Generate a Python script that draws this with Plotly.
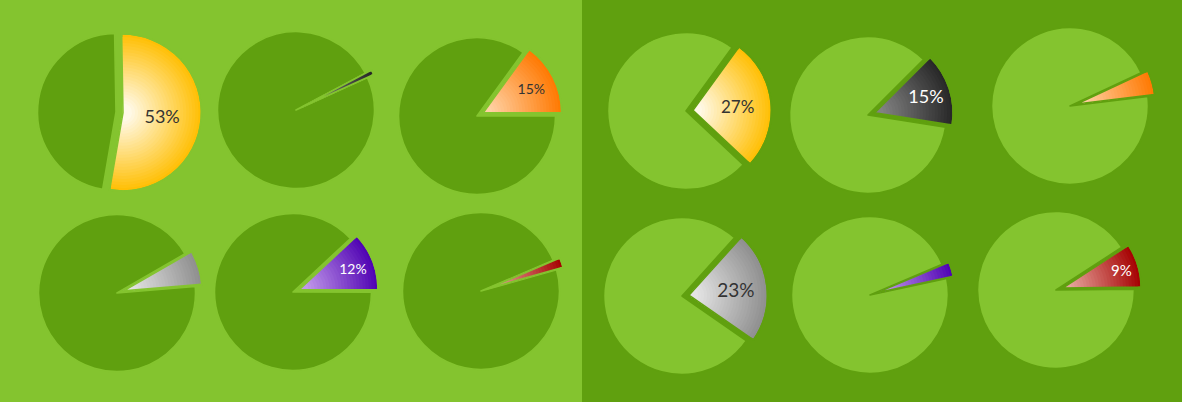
import plotly.graph_objects as go

# ---------------- data ----------------
categories = ["Yellow", "Charcoal", "Orange", "Silver", "Violet", "Crimson"]
left_values = [53, 1, 15, 7, 12, 2]
right_values = [27, 15, 5, 23, 3, 9]
left_labels = ["53%", "", "15%", "", "12%", ""]
right_labels = ["27%", "15%", "", "23%", "", "9%"]

# ---------------- styles / layout ----------------
W, H = 1182, 402
SPLIT = 582
BG_LIGHT = "#84C42F"
BG_DARK = "#60A00F"

# inner (at pie centre) and outer (at rim) colour of each category's gradient
inner_colors = ["#FFFFFF", "#8C8C8C", "#FFDAB5", "#EDEDED", "#CDA8F0", "#EDB5AC"]
outer_colors = ["#FFBE00", "#262626", "#FF7800", "#8E8E8E", "#4E00B2", "#A50000"]
label_colors_left = ["#333333", "#FFFFFF", "#333333", "#333333", "#FFFFFF", "#FFFFFF"]
label_colors_right = ["#333333", "#FFFFFF", "#333333", "#333333", "#FFFFFF", "#FFFFFF"]
label_sizes_left = [18, 14, 14, 14, 14, 14]
label_sizes_right = [17, 18, 14, 19, 14, 15]

# pie centres in pixels and start angle (clockwise from 12 o'clock)
left_centers = [(116, 112), (296, 110), (477, 116), (117, 293), (293, 292), (481, 291)]
right_centers = [(686, 111), (868, 115), (1070, 106), (682, 296), (870, 295), (1056, 290)]
left_start = [-1, 62, 36, 60, 47, 67]
right_start = [36, 45, 65, 42, 67, 57]

R = 78.5      # pie radius (px)
OFF = 7.0     # pull-out distance (px)
NLAYERS = 26  # gradient steps
EDGE_W = 1.6


def hex2rgb(h):
    h = h.lstrip("#")
    return tuple(int(h[i:i + 2], 16) for i in (0, 2, 4))


def mix(c1, c2, t):
    a, b = hex2rgb(c1), hex2rgb(c2)
    return "rgb(%d,%d,%d)" % tuple(round(a[i] + (b[i] - a[i]) * t) for i in range(3))


def domain_for(cx, cy, r, off):
    d = 2 * r + 2 * off
    return dict(x=[(cx - d / 2) / W, (cx + d / 2) / W],
                y=[1 - (cy + d / 2) / H, 1 - (cy - d / 2) / H])


fig = go.Figure()

panels = [
    (left_values, left_labels, left_centers, left_start, BG_LIGHT, BG_DARK,
     label_colors_left, label_sizes_left),
    (right_values, right_labels, right_centers, right_start, BG_DARK, BG_LIGHT,
     label_colors_right, label_sizes_right),
]

for values, labels, centers, starts, bg, rest, lcols, lsizes in panels:
    for i, v in enumerate(values):
        cx, cy = centers[i]
        vals = [v, 100 - v]
        common = dict(values=vals, labels=[categories[i], "Other"], sort=False,
                      direction="clockwise", rotation=starts[i],
                      showlegend=False, hoverinfo="skip", textinfo="none")
        # base pie: outer gradient colour + remaining share
        fig.add_trace(go.Pie(
            domain=domain_for(cx, cy, R, OFF), pull=[OFF / R, 0],
            marker=dict(colors=[mix(inner_colors[i], outer_colors[i], 1 - 0.5 / NLAYERS), rest],
                        line=dict(color=bg, width=EDGE_W)),
            **common))
        # gradient layers for the highlighted slice
        for k in range(1, NLAYERS):
            rk = R * (NLAYERS - k) / NLAYERS
            if rk < OFF * 1.01:
                break
            t = (rk - 0.5 * R / NLAYERS) / R
            fig.add_trace(go.Pie(
                domain=domain_for(cx, cy, rk, OFF), pull=[OFF / rk, 0],
                marker=dict(colors=[mix(inner_colors[i], outer_colors[i], t), "rgba(0,0,0,0)"],
                            line=dict(width=0)),
                **common))
        # top: outline + label
        top = dict(common)
        top["textinfo"] = "text"
        fig.add_trace(go.Pie(
            domain=domain_for(cx, cy, R, OFF), pull=[OFF / R, 0],
            marker=dict(colors=["rgba(0,0,0,0)", "rgba(0,0,0,0)"],
                        line=dict(color=[bg, "rgba(0,0,0,0)"], width=[EDGE_W, 0])),
            text=[labels[i], ""], textposition="inside",
            insidetextorientation="horizontal",
            textfont=dict(family="Lato, Open Sans, sans-serif", size=lsizes[i], color=lcols[i]),
            **top))

fig.update_layout(
    width=W, height=H,
    margin=dict(l=0, r=0, t=0, b=0),
    paper_bgcolor=BG_DARK,
    plot_bgcolor=BG_DARK,
    showlegend=False,
    shapes=[dict(type="rect", xref="paper", yref="paper", x0=0, x1=SPLIT / W, y0=0, y1=1,
                 fillcolor=BG_LIGHT, line=dict(width=0), layer="below")],
)

fig.write_html("out.html",
               config={"displayModeBar": False},
               post_script="document.body.style.margin='0';document.body.style.overflow='hidden';")
